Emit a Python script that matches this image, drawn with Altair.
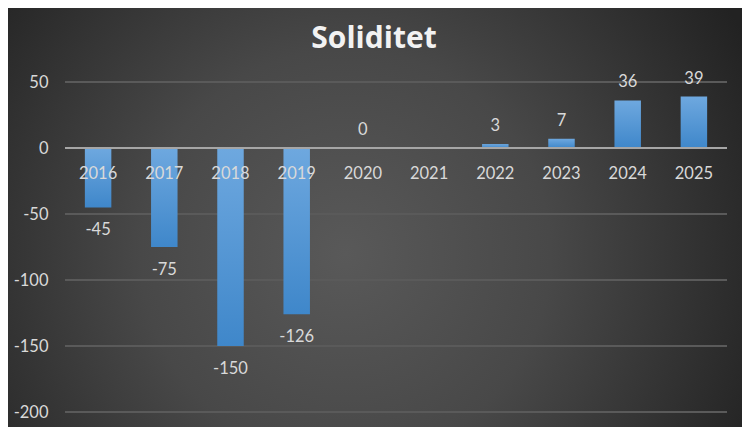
import altair as alt
import pandas as pd

years = ["2016", "2017", "2018", "2019", "2020", "2021", "2022", "2023", "2024", "2025"]
values = [-45, -75, -150, -126, 0, None, 3, 7, 36, 39]
y_ticks = [-200, -150, -100, -50, 0, 50]

df = pd.DataFrame({"year": years, "value": values})
ticks_df = pd.DataFrame({"tick": y_ticks})

LABEL_FONT = "Lato"
LABEL_COLOR = "#d9d9d9"

x_enc = alt.X("year:N", sort=years,
              scale=alt.Scale(paddingInner=0.6, paddingOuter=0.3),
              axis=None)
y_scale = alt.Scale(domain=[-200, 50], nice=False, zero=False)

bg = alt.Chart(alt.Data(values=[{}])).mark_rect(
    fill=alt.RadialGradient(
        gradient="radial",
        stops=[alt.GradientStop(color="#595959", offset=0),
               alt.GradientStop(color="#484848", offset=0.45),
               alt.GradientStop(color="#222222", offset=1)],
        x1=0.46, y1=0.55, x2=0.46, y2=0.55, r1=0, r2=0.62),
    clip=False,
).encode(x=alt.value(-57), x2=alt.value(677), y=alt.value(-74), y2=alt.value(345))

grid = alt.Chart(ticks_df).mark_rule(color="#5a5a5a", strokeWidth=2).encode(
    y=alt.Y("tick:Q", scale=y_scale,
            axis=alt.Axis(values=y_ticks, title=None, ticks=False, domain=False,
                          grid=False, labelColor=LABEL_COLOR, labelFont=LABEL_FONT,
                          labelFontSize=16.5, labelPadding=17, zindex=1,
                          labelExpr="'' + datum.value")),
    x=alt.value(0), x2=alt.value(662))

base = alt.Chart(df).transform_calculate(label="'' + datum.value")

bars = base.mark_bar(
    fill=alt.LinearGradient(
        gradient="linear",
        stops=[alt.GradientStop(color="#6ea8df", offset=0),
               alt.GradientStop(color="#3f87ca", offset=1)],
        x1=0, y1=0, x2=0, y2=1),
).encode(x=x_enc, y=alt.Y("value:Q", scale=y_scale))

zero = alt.Chart(alt.Data(values=[{}])).mark_rule(color="#a6a6a6", strokeWidth=2).encode(
    y=alt.datum(0), x=alt.value(0), x2=alt.value(662))

xlabels = base.mark_text(color=LABEL_COLOR, font=LABEL_FONT, fontSize=16.5,
                         baseline="alphabetic", dy=31).encode(
    x=x_enc, y=alt.datum(0), text="year:N")

pos = base.transform_filter("isValid(datum.value) && datum.value >= 0").mark_text(
    color=LABEL_COLOR, font=LABEL_FONT, fontSize=16.5, baseline="alphabetic", dy=-13
).encode(x=x_enc, y=alt.Y("value:Q", scale=y_scale), text="label:N")

neg = base.transform_filter("isValid(datum.value) && datum.value < 0").mark_text(
    color=LABEL_COLOR, font=LABEL_FONT, fontSize=16.5, baseline="alphabetic", dy=28
).encode(x=x_enc, y=alt.Y("value:Q", scale=y_scale), text="label:N")

chart = alt.layer(bg, grid, bars, zero, xlabels, pos, neg).properties(
    width=662, height=330,
    title=alt.TitleParams("Soliditet", font="Open Sans", fontSize=30, fontWeight="bold",
                          color="#f2f2f2", anchor="middle", frame="group",
                          baseline="alphabetic", offset=0, dy=70, dx=-22),
    autosize=alt.AutoSizeParams(type="none"),
    padding={"left": 57, "top": 74, "right": 15, "bottom": 15},
    background="#2b2b2b",
).configure_view(stroke=None)

chart.save("out.html", embed_options={"renderer": "svg", "actions": False})
